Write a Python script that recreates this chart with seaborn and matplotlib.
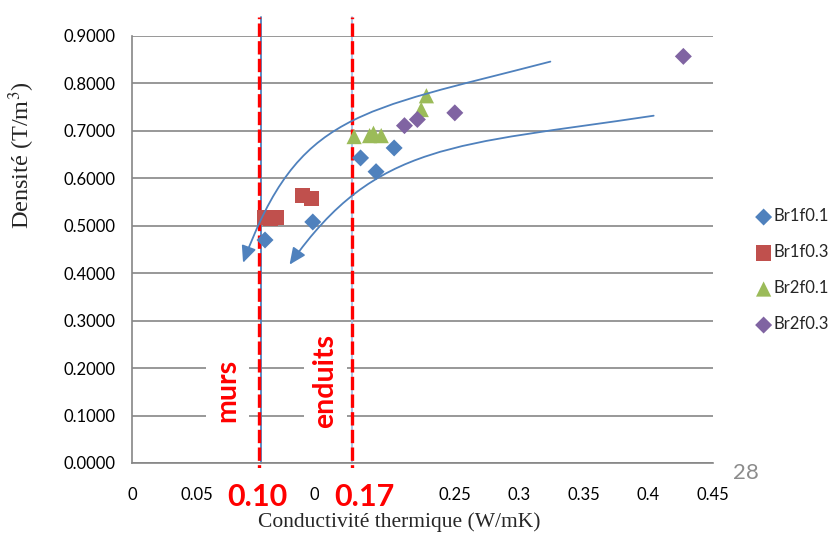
import numpy as np
import pandas as pd
import matplotlib
matplotlib.use("Agg")
import matplotlib.pyplot as plt
from matplotlib.patches import FancyArrowPatch
from matplotlib.path import Path
import seaborn as sns

# data
br1f01_x = [0.103, 0.140, 0.177, 0.189, 0.203]
br1f01_y = [0.470, 0.508, 0.643, 0.614, 0.664]
br1f03_x = [0.103, 0.107, 0.112, 0.132, 0.139]
br1f03_y = [0.518, 0.515, 0.517, 0.563, 0.557]
br2f01_x = [0.172, 0.184, 0.187, 0.193, 0.224, 0.228]
br2f01_y = [0.688, 0.690, 0.695, 0.690, 0.745, 0.774]
br2f03_x = [0.211, 0.221, 0.250, 0.427]
br2f03_y = [0.711, 0.724, 0.738, 0.857]

series = ["Br1f0.1", "Br1f0.3", "Br2f0.1", "Br2f0.3"]
colors = ["#4F81BD", "#C0504D", "#9BBB59", "#8064A2"]
markers = ["D", "s", "^", "D"]
sizes = [75, 120, 120, 75]

x_ticks = [0, 0.05, 0.1, 0.15, 0.2, 0.25, 0.3, 0.35, 0.4, 0.45]
x_labels = ["0", "0.05", "0.1", "0.15", "0.2", "0.25", "0.3", "0.35", "0.4", "0.45"]
y_ticks = [0.0, 0.1, 0.2, 0.3, 0.4, 0.5, 0.6, 0.7, 0.8, 0.9]

limit_labels = ["0.10", "0.17"]

# hand-drawn trend arrows (bezier control points, data units)
upper_arrow = [(0.324, 0.846), (0.174, 0.740), (0.129, 0.738), (0.086, 0.422)]
lower_arrow = [(0.404, 0.732), (0.250, 0.669), (0.189, 0.677), (0.122, 0.418)]

df = pd.concat([
    pd.DataFrame({"x": br1f01_x, "y": br1f01_y, "serie": series[0]}),
    pd.DataFrame({"x": br1f03_x, "y": br1f03_y, "serie": series[1]}),
    pd.DataFrame({"x": br2f01_x, "y": br2f01_y, "serie": series[2]}),
    pd.DataFrame({"x": br2f03_x, "y": br2f03_y, "serie": series[3]}),
])

sns.set_style("white")
plt.rcParams["font.family"] = ["Lato", "DejaVu Sans"]
plt.rcParams["mathtext.fontset"] = "stix"

fig = plt.figure(figsize=(8.33, 5.42), dpi=100)
ax = fig.add_axes([0.1585, 0.1458, 0.6975, 0.7878])

grey = "#868686"
blue = "#4F81BD"

for name, col, mk, sz in zip(series, colors, markers, sizes):
    sns.scatterplot(data=df[df.serie == name], x="x", y="y", color=col,
                    marker=mk, s=sz, edgecolor="none", label=name, ax=ax,
                    zorder=4)

ax.set_xlim(0, 0.45)
ax.set_ylim(0, 0.9)
ax.set_xticks(x_ticks)
ax.set_xticklabels(x_labels)
ax.set_yticks(y_ticks)
ax.set_yticklabels(["%.4f" % v for v in y_ticks])
ax.tick_params(axis="both", labelsize=12, colors="black", direction="out",
               length=4, width=1, color=grey)
ax.tick_params(axis="x", pad=13)
ax.tick_params(axis="y", pad=8)
ax.yaxis.grid(True, color=grey, lw=1.2)
ax.xaxis.grid(False)
for s in ["top", "right"]:
    ax.spines[s].set_visible(False)
for s in ["left", "bottom"]:
    ax.spines[s].set_color(grey)
    ax.spines[s].set_linewidth(1.2)

# limit lines
ax.plot([0.1, 0.1], [0, 0.94], color=blue, lw=1.3, clip_on=False, zorder=2)
ax.plot([0.1705, 0.1705], [0, 0.94], color="#9dbbe0", lw=1.2, clip_on=False, zorder=2)
ax.plot([0.0985, 0.0985], [-0.032, 0.94], color="red", lw=2.4, ls=(0, (4, 1.3)),
        clip_on=False, zorder=3)
ax.plot([0.1705, 0.1705], [-0.032, 0.94], color="red", lw=2.4, ls=(0, (4, 1.3)),
        clip_on=False, zorder=3)

for xv, lab in zip([0.0968, 0.180], limit_labels):
    ax.text(xv, -0.072, lab, color="red", fontsize=22, fontweight="bold",
            ha="center", va="center", clip_on=False, zorder=6,
            bbox=dict(boxstyle="square,pad=0.5", facecolor="white", edgecolor="none"))

ax.text(0.0736, 0.152, "murs", color="red", fontsize=20.5, fontweight="bold",
        rotation=90, ha="center", va="center", zorder=5,
        bbox=dict(boxstyle="square,pad=0.3", facecolor="white", edgecolor="none"))
ax.text(0.1495, 0.173, "enduits", color="red", fontsize=20.5, fontweight="bold",
        rotation=90, ha="center", va="center", zorder=5,
        bbox=dict(boxstyle="square,pad=0.3", facecolor="white", edgecolor="none"))

# curved trend arrows
codes = [Path.MOVETO, Path.CURVE4, Path.CURVE4, Path.CURVE4]
for pts in [upper_arrow, lower_arrow]:
    arr = FancyArrowPatch(path=Path(pts, codes),
                          arrowstyle="-|>,head_length=1.0,head_width=0.45",
                          mutation_scale=10, color=blue, lw=1.3, zorder=5)
    ax.add_patch(arr)

ax.set_xlabel("")
fig.text(0.479, 0.037, "Conductivité thermique (W/mK)", family="Liberation Serif",
         fontsize=15.5, ha="center", va="center")
ax.set_ylabel("Densité (T/m$^3$)", family="Liberation Serif", fontsize=17.5)
ax.yaxis.set_label_coords(-0.163, 0.72)

leg = ax.legend(loc="center left", bbox_to_anchor=(1.044, 0.451), frameon=False,
                fontsize=12, labelspacing=1.2, handletextpad=0.0,
                handlelength=1.2)

fig.text(0.895, 0.128, "28", color="#8c8c8c", fontsize=16, ha="center", va="center")

fig.savefig("out.png", dpi=100)
